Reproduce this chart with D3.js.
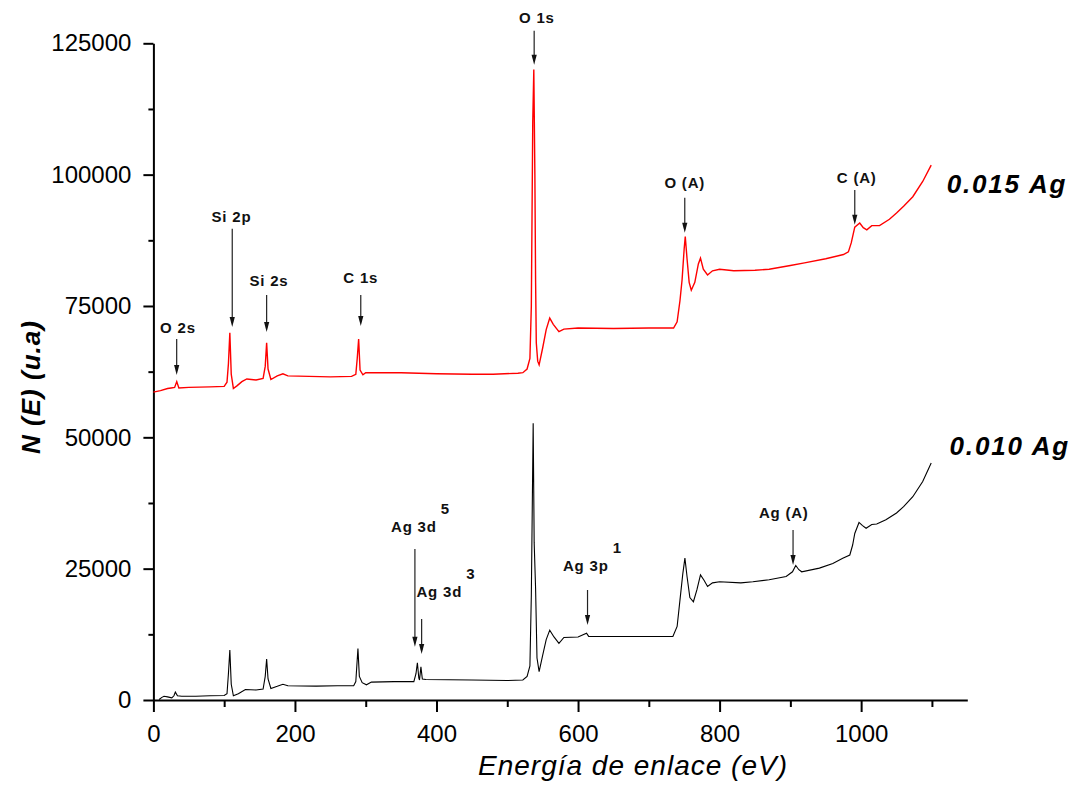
<!DOCTYPE html>
<html>
<head>
<meta charset="utf-8">
<script src="https://cdn.jsdelivr.net/npm/d3@7"></script>
<style>
  body { margin: 0; background: #fff; }
  text { font-family: "Liberation Sans", Arial, sans-serif; }
</style>
</head>
<body>
<div id="chart"></div>
<script>
// XPS survey spectra, binding energy (eV) vs N(E)

// 0.015 Ag sample (red)
var energy015 = [0, 10, 20, 25, 30, 33, 36, 50, 80, 100, 104, 106, 108, 110, 113, 118, 125, 132, 145, 155,
  158, 160, 162, 166, 175, 183, 190, 220, 250, 280, 286, 288, 290, 292, 296, 300, 350, 400, 450, 480,
  515, 522, 528, 532, 534, 536, 537.5, 539, 540, 541, 543, 545, 550, 555, 560, 565, 573, 580, 600, 650,
  700, 735, 740, 744, 747, 750, 751.5, 754, 757, 760, 765, 770, 773, 777, 783, 790, 800, 820, 850, 870,
  900, 920, 950, 975, 982, 986, 991, 998, 1003, 1008, 1015, 1026, 1040, 1050, 1060, 1073, 1087, 1099];
var counts015 = [58600, 58900, 59300, 59400, 59500, 60600, 59400, 59500, 59600, 59700, 60500, 64000, 69900, 62000, 59300, 59800, 60600, 61100, 60900, 61200,
  63500, 68000, 63000, 61000, 61700, 62100, 61700, 61600, 61500, 61600, 62000, 65000, 68700, 62800, 61900, 62300, 62300, 62100, 62000, 62000,
  62200, 62300, 63000, 65000, 75000, 110000, 120000, 100000, 80000, 68000, 64500, 63800, 67000, 70500, 72700, 71500, 70100, 70600, 70800, 70700,
  70800, 70800, 72000, 76000, 80000, 86000, 88200, 84000, 79500, 78000, 79500, 83000, 84100, 82000, 80900, 81700, 82000, 81700, 81800, 82000,
  82700, 83200, 84000, 84800, 85300, 87000, 90000, 90800, 89900, 89500, 90300, 90300, 91500, 92700, 94000, 95800, 98700, 101800];

// 0.010 Ag sample (black)
var energy010 = [8, 12, 15, 20, 26, 29, 31, 34, 40, 60, 80, 100, 104, 106, 108, 110, 113, 120, 130, 145,
  155, 158, 160, 162, 166, 175, 183, 190, 230, 260, 283, 286, 289, 291, 295, 301, 308, 340, 368, 371,
  373, 375, 376, 378, 380, 385, 450, 500, 522, 528, 532, 534, 536.6, 538, 540, 542, 545, 550, 555, 560,
  566, 573, 580, 600, 612, 615, 650, 700, 734, 740, 744, 748, 751, 754, 758, 763, 768, 773, 778, 783,
  790, 800, 830, 847, 870, 894, 903, 907.6, 912, 916, 941, 960, 974, 984, 988, 991, 997, 1002, 1007, 1015,
  1022, 1035, 1050, 1060, 1073, 1087, 1099];
var counts010 = [100, 500, 700, 600, 400, 800, 1500, 800, 700, 700, 800, 850, 1200, 5000, 9500, 3000, 800, 1200, 2000, 1900,
  2100, 4500, 7800, 4000, 2200, 2600, 3000, 2700, 2650, 2700, 2700, 3500, 9800, 4500, 3300, 2900, 3400, 3500, 3500, 5000,
  7100, 4200, 3800, 6300, 4000, 3900, 3800, 3700, 3800, 4500, 6500, 20000, 52700, 30000, 21300, 8000, 5400, 8500, 11500, 13300,
  12000, 10800, 11900, 12000, 12700, 12100, 12100, 12100, 12100, 14000, 19000, 24000, 27000, 23500, 19500, 18700, 21000, 23800, 22800, 21600,
  22300, 22500, 22300, 22500, 22900, 23500, 24400, 25600, 24800, 24400, 25100, 26000, 27000, 27600, 29500, 31700, 33800, 33200, 32700, 33400,
  33500, 34300, 35600, 36800, 38700, 41600, 45100];

var seriesNames = ["0.015 Ag", "0.010 Ag"];

// peak labels: text, superscript, energy of arrow, arrow tip, arrow tail, label energy, label baseline
var peakNames  = ["O 2s", "Si 2p", "Si 2s", "C 1s", "O 1s", "O (A)", "C (A)", "Ag 3d", "Ag 3d", "Ag 3p", "Ag (A)"];
var peakSup    = ["", "", "", "", "", "", "", "5", "3", "1", ""];
var peakEnergy = [32.9, 111.4, 160, 293, 538, 750.8, 991, 369.5, 379, 613.4, 903.8];
var peakTip    = [61880, 71020, 70070, 71210, 120900, 88920, 90440, 10150, 8760, 14280, 25700];
var peakTail   = [68730, 89700, 77110, 77110, 127380, 95580, 97100, 28750, 15420, 20940, 32370];
var labelEnergy = [34.7, 110.3, 163.3, 293, 541.8, 750.8, 993.8, 368, 404, 611, 890.7];
var labelValue  = [69880, 91010, 78830, 79400, 128900, 97480, 98440, 31990, 19670, 24620, 34650];

var xMajor = [0, 200, 400, 600, 800, 1000];
var xMinor = [100, 300, 500, 700, 900, 1100];
var yMajor = [0, 25000, 50000, 75000, 100000, 125000];
var yMinor = [12500, 37500, 62500, 87500, 112500];

var svgWidth = 1083;
var svgHeight = 801;

var margin = { top: 43.3, right: 115.7, bottom: 101, left: 153.4 };
var width = svgWidth - margin.left - margin.right;
var height = svgHeight - margin.top - margin.bottom;

var svg = d3.select("#chart")
  .append("svg")
  .attr("width", svgWidth)
  .attr("height", svgHeight);

var g = svg.append("g")
  .attr("transform", `translate(${margin.left}, ${margin.top})`);

var x = d3.scaleLinear().domain([0, 1150]).range([0, width]);
var y = d3.scaleLinear().domain([0, 125000]).range([height, 0]);

// axes
g.append("g")
  .attr("transform", `translate(0, ${height})`)
  .call(d3.axisBottom(x).tickValues(xMajor).tickFormat(d3.format("d"))
    .tickSize(12).tickSizeOuter(0).tickPadding(13));
g.append("g")
  .attr("transform", `translate(0, ${height})`)
  .call(d3.axisBottom(x).tickValues(xMinor).tickSize(7).tickFormat(""))
  .call(s => s.select(".domain").remove());

g.append("g")
  .call(d3.axisLeft(y).tickValues(yMajor).tickFormat(d3.format("d"))
    .tickSize(10).tickSizeOuter(0).tickPadding(12));
g.append("g")
  .call(d3.axisLeft(y).tickValues(yMinor).tickSize(5).tickFormat(""))
  .call(s => s.select(".domain").remove());

g.selectAll(".domain").attr("stroke", "#000").attr("stroke-width", 2);
g.selectAll(".tick line").attr("stroke", "#000").attr("stroke-width", 2);
g.selectAll(".tick text")
  .attr("font-family", "Liberation Sans, Arial, sans-serif")
  .attr("font-size", 24)
  .attr("fill", "#000");

// spectra
var line = d3.line()
  .x(d => x(d[0]))
  .y(d => y(d[1]));

g.append("path")
  .datum(d3.zip(energy015, counts015))
  .attr("fill", "none")
  .attr("stroke", "#ff0000")
  .attr("stroke-width", 1.4)
  .attr("d", line);

g.append("path")
  .datum(d3.zip(energy010, counts010))
  .attr("fill", "none")
  .attr("stroke", "#000")
  .attr("stroke-width", 1.1)
  .attr("d", line);

// peak arrows and labels
peakNames.forEach(function(name, i) {
  var ax = x(peakEnergy[i]);
  var tip = y(peakTip[i]);
  g.append("line")
    .attr("x1", ax).attr("x2", ax)
    .attr("y1", y(peakTail[i])).attr("y2", tip - 4)
    .attr("stroke", "#222")
    .attr("stroke-width", 1.2);
  g.append("path")
    .attr("d", `M${ax},${tip} L${ax - 2.6},${tip - 10} L${ax + 2.6},${tip - 10} Z`)
    .attr("fill", "#111");

  var t = g.append("text")
    .attr("x", x(labelEnergy[i]))
    .attr("y", y(labelValue[i]))
    .attr("text-anchor", "middle")
    .attr("font-size", 15)
    .attr("font-weight", "bold")
    .attr("letter-spacing", 0.8)
    .attr("fill", "#111")
    .text(name);

  if (peakSup[i]) {
    var len = t.node().getComputedTextLength();
    g.append("text")
      .attr("x", x(labelEnergy[i]) + len / 2 + 4)
      .attr("y", y(labelValue[i]) - 18)
      .attr("font-size", 15)
      .attr("font-weight", "bold")
      .attr("fill", "#111")
      .text(peakSup[i]);
  }
});

// series names
g.append("text")
  .attr("x", x(1121))
  .attr("y", y(96530))
  .attr("font-size", 26)
  .attr("font-weight", "bold")
  .attr("font-style", "italic")
  .attr("letter-spacing", 1.8)
  .text(seriesNames[0]);

g.append("text")
  .attr("x", x(1125))
  .attr("y", y(46650))
  .attr("font-size", 26)
  .attr("font-weight", "bold")
  .attr("font-style", "italic")
  .attr("letter-spacing", 1.8)
  .text(seriesNames[1]);

// axis titles
svg.append("text")
  .attr("transform", "translate(40, 387) rotate(-90)")
  .attr("text-anchor", "middle")
  .attr("font-size", 26)
  .attr("font-weight", "bold")
  .attr("font-style", "italic")
  .attr("letter-spacing", 1)
  .text("N (E)  (u.a)");

svg.append("text")
  .attr("x", 633)
  .attr("y", 775)
  .attr("text-anchor", "middle")
  .attr("font-size", 28)
  .attr("font-style", "italic")
  .attr("letter-spacing", 1)
  .text("Energía de enlace (eV)");
</script>
</body>
</html>
